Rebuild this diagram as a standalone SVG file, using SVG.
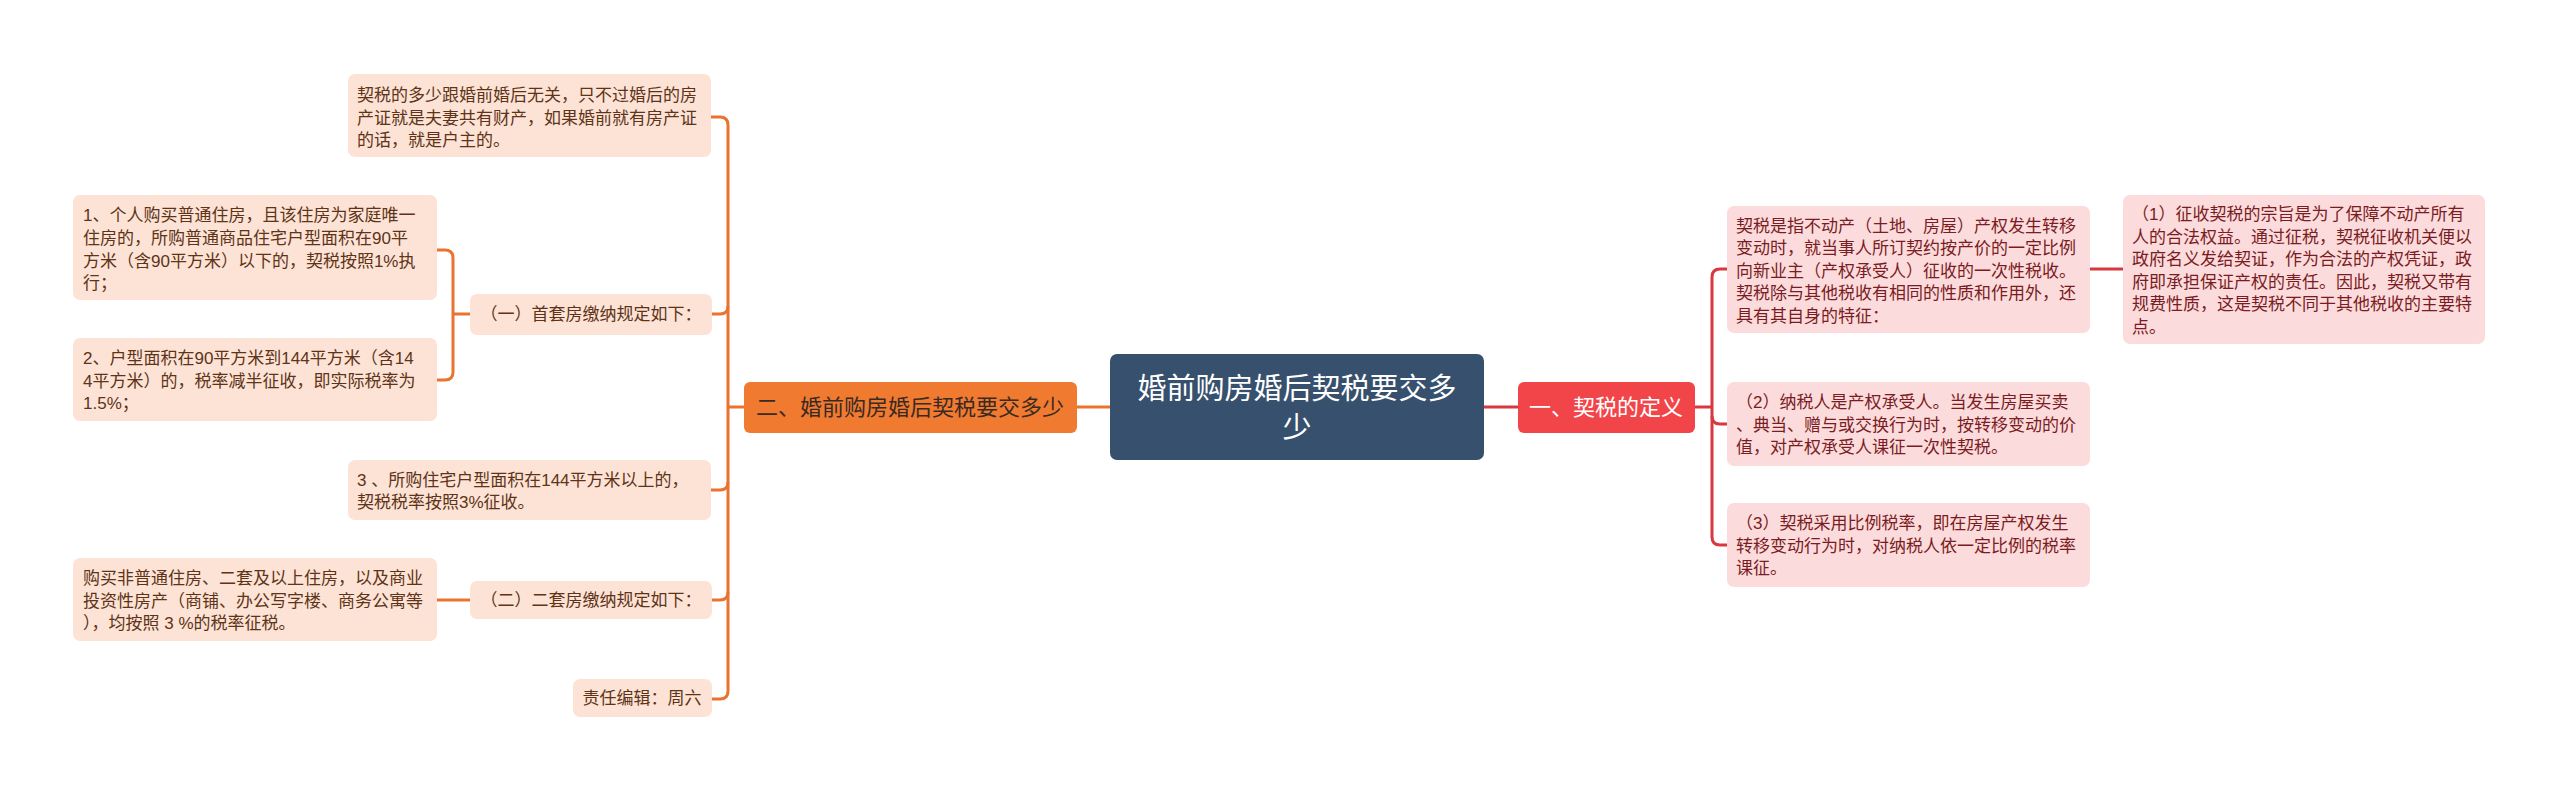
<svg xmlns="http://www.w3.org/2000/svg" width="2560" height="793" viewBox="0 0 2560 793">
<defs>
<style>
text{font-family:"Liberation Sans","Noto Sans CJK SC",sans-serif;}
.ll{fill:#fce3d5;}
.rl{fill:#fcdbdd;}
.lt{font-size:17px;fill:#5e3318;}
.rt{font-size:17px;fill:#7a1c22;}
.co{fill:none;stroke:#ea7330;stroke-width:3;}
.cr{fill:none;stroke:#d8383f;stroke-width:3;}
</style>
</defs>
<rect width="2560" height="793" fill="#ffffff"/>
<g id="connectors">
<path class="co" d="M1110,407 H1077"/>
<path class="cr" d="M1484,407 H1518"/>
<path class="co" d="M744,407 H728"/>
<path class="co" d="M728,125 V691"/>
<path class="co" d="M728,125 Q728,117 720,117 H711"/>
<path class="co" d="M728,306 Q728,314 720,314 H712"/>
<path class="co" d="M728,482 Q728,490 720,490 H711"/>
<path class="co" d="M728,592 Q728,600 720,600 H712"/>
<path class="co" d="M728,691 Q728,699 720,699 H712"/>
<path class="co" d="M470,314 H453"/>
<path class="co" d="M453,258 V372"/>
<path class="co" d="M453,258 Q453,250 445,250 H437"/>
<path class="co" d="M453,372 Q453,380 445,380 H437"/>
<path class="co" d="M470,600 H437"/>
<path class="cr" d="M1695,407 H1712"/>
<path class="cr" d="M1712,277 V537"/>
<path class="cr" d="M1712,277 Q1712,269 1720,269 H1727"/>
<path class="cr" d="M1712,416 Q1712,424 1720,424 H1727"/>
<path class="cr" d="M1712,537 Q1712,545 1720,545 H1727"/>
<path class="cr" d="M2090,269 H2123"/>
</g>
<g id="root">
<rect x="1110" y="354" width="374" height="106" rx="7" fill="#36506d"/>
<text x="1297" y="399" font-size="29" fill="#ffffff" text-anchor="middle">婚前购房婚后契税要交多</text>
<text x="1297" y="438" font-size="29" fill="#ffffff" text-anchor="middle">少</text>
</g>
<g id="branch-left">
<rect x="744" y="382" width="333" height="51" rx="6" fill="#f17a31"/>
<text x="910" y="415" font-size="22" fill="#3a2a22" text-anchor="middle">二、婚前购房婚后契税要交多少</text>
</g>
<g id="branch-right">
<rect x="1518" y="382" width="177" height="51" rx="6" fill="#f2454a"/>
<text x="1606" y="415" font-size="22" fill="#ffffff" text-anchor="middle">一、契税的定义</text>
</g>
<g id="l1">
<rect class="ll" x="348" y="74" width="363" height="83" rx="7"/>
<text class="lt" x="357" y="101">契税的多少跟婚前婚后无关，只不过婚后的房</text>
<text class="lt" x="357" y="124">产证就是夫妻共有财产，如果婚前就有房产证</text>
<text class="lt" x="357" y="146">的话，就是户主的。</text>
</g>
<g id="l2">
<rect class="ll" x="470" y="294" width="242" height="41" rx="7"/>
<text class="lt" x="591" y="320" text-anchor="middle">（一）首套房缴纳规定如下：</text>
</g>
<g id="l2a">
<rect class="ll" x="73" y="195" width="364" height="105" rx="7"/>
<text class="lt" x="83" y="221">1、个人购买普通住房，且该住房为家庭唯一</text>
<text class="lt" x="83" y="244">住房的，所购普通商品住宅户型面积在90平</text>
<text class="lt" x="83" y="267">方米（含90平方米）以下的，契税按照1%执</text>
<text class="lt" x="83" y="289">行；</text>
</g>
<g id="l2b">
<rect class="ll" x="73" y="338" width="364" height="83" rx="7"/>
<text class="lt" x="83" y="364">2、户型面积在90平方米到144平方米（含14</text>
<text class="lt" x="83" y="387">4平方米）的，税率减半征收，即实际税率为</text>
<text class="lt" x="83" y="409">1.5%；</text>
</g>
<g id="l3">
<rect class="ll" x="348" y="460" width="363" height="60" rx="7"/>
<text class="lt" x="357" y="486"> 3 、所购住宅户型面积在144平方米以上的，</text>
<text class="lt" x="357" y="508">契税税率按照3%征收。</text>
</g>
<g id="l4">
<rect class="ll" x="470" y="581" width="242" height="38" rx="7"/>
<text class="lt" x="591" y="606" text-anchor="middle">（二）二套房缴纳规定如下：</text>
</g>
<g id="l4a">
<rect class="ll" x="73" y="558" width="364" height="83" rx="7"/>
<text class="lt" x="83" y="584">购买非普通住房、二套及以上住房，以及商业</text>
<text class="lt" x="83" y="607">投资性房产（商铺、办公写字楼、商务公寓等</text>
<text class="lt" x="83" y="629">），均按照 3 %的税率征税。</text>
</g>
<g id="l5">
<rect class="ll" x="573" y="679" width="139" height="38" rx="7"/>
<text class="lt" x="642" y="704" text-anchor="middle">责任编辑：周六</text>
</g>
<g id="r1">
<rect class="rl" x="1727" y="206" width="363" height="127" rx="7"/>
<text class="rt" x="1736" y="232">契税是指不动产（土地、房屋）产权发生转移</text>
<text class="rt" x="1736" y="254">变动时，就当事人所订契约按产价的一定比例</text>
<text class="rt" x="1736" y="277">向新业主（产权承受人）征收的一次性税收。</text>
<text class="rt" x="1736" y="299">契税除与其他税收有相同的性质和作用外，还</text>
<text class="rt" x="1736" y="322">具有其自身的特征：</text>
</g>
<g id="r1a">
<rect class="rl" x="2123" y="195" width="362" height="149" rx="7"/>
<text class="rt" x="2132" y="220">（1）征收契税的宗旨是为了保障不动产所有</text>
<text class="rt" x="2132" y="243">人的合法权益。通过征税，契税征收机关便以</text>
<text class="rt" x="2132" y="265">政府名义发给契证，作为合法的产权凭证，政</text>
<text class="rt" x="2132" y="288">府即承担保证产权的责任。因此，契税又带有</text>
<text class="rt" x="2132" y="310">规费性质，这是契税不同于其他税收的主要特</text>
<text class="rt" x="2132" y="333">点。</text>
</g>
<g id="r2">
<rect class="rl" x="1727" y="382" width="363" height="84" rx="7"/>
<text class="rt" x="1736" y="408">（2）纳税人是产权承受人。当发生房屋买卖</text>
<text class="rt" x="1736" y="431">、典当、赠与或交换行为时，按转移变动的价</text>
<text class="rt" x="1736" y="453">值，对产权承受人课征一次性契税。</text>
</g>
<g id="r3">
<rect class="rl" x="1727" y="503" width="363" height="84" rx="7"/>
<text class="rt" x="1736" y="529">（3）契税采用比例税率，即在房屋产权发生</text>
<text class="rt" x="1736" y="552">转移变动行为时，对纳税人依一定比例的税率</text>
<text class="rt" x="1736" y="574">课征。</text>
</g>
</svg>
